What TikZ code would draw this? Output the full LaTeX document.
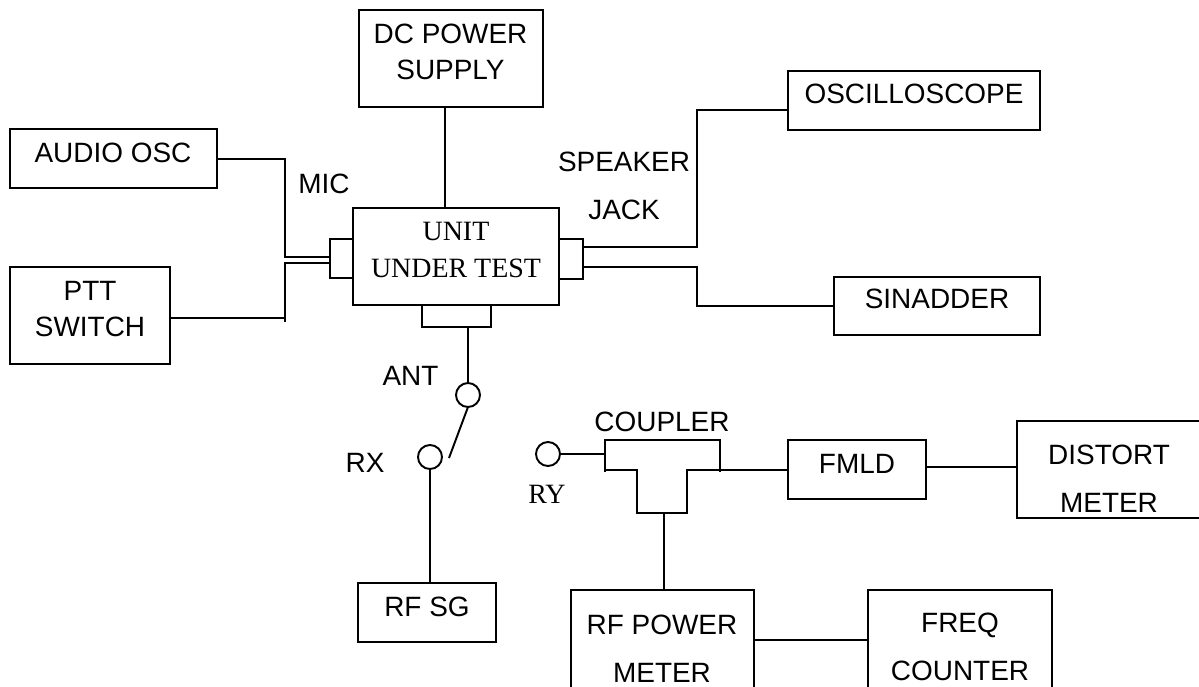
\documentclass[tikz,border=0pt]{standalone}
\usepackage{fontspec}
\setmainfont{Liberation Sans}
\newfontfamily\timesfont{Liberation Serif}
\begin{document}
\begin{tikzpicture}[scale=0.2,line width=1.1pt]
\tikzstyle{every node}+=[inner sep=0pt,outer sep=0pt]
\tikzstyle{block}=[draw,black,rectangle]
\tikzstyle{port}=[draw,black,circle,minimum size=0.48cm]
\tikzstyle{lbl}=[anchor=base,align=center,font=\fontsize{15.9}{20.45}\selectfont]
\tikzstyle{widelbl}=[lbl,font=\fontsize{15.9}{27.3}\selectfont]
\tikzstyle{serlbl}=[lbl,font=\fontsize{15.9}{20.9}\timesfont]
\useasboundingbox (0,0) rectangle (119.9,-68.6);
\clip (0,0) rectangle (119.9,-68.6);
\node [block,minimum width=3.68cm,minimum height=1.94cm] (dc) at (45.1,-5.85) {};
\node [block,minimum width=4.14cm,minimum height=1.18cm] (audio) at (11.35,-15.85) {};
\node [block,minimum width=3.2cm,minimum height=1.94cm] (ptt) at (9,-31.55) {};
\node [block,minimum width=4.12cm,minimum height=1.95cm] (unit) at (45.6,-25.63) {};
\node [block,minimum width=0.46cm,minimum height=0.78cm] (micjack) at (34.15,-25.85) {};
\node [block,minimum width=0.48cm,minimum height=0.8cm] (spkjack) at (57.1,-25.9) {};
\node [block,minimum width=1.38cm,minimum height=0.44cm] (antjack) at (45.65,-31.6) {};
\node [block,minimum width=5.04cm,minimum height=1.18cm] (osc) at (91.4,-10.05) {};
\node [block,minimum width=4.12cm,minimum height=1.16cm] (sin) at (93.7,-30.6) {};
\node [block,minimum width=2.76cm,minimum height=1.18cm] (rfsg) at (42.7,-61.25) {};
\node [block,minimum width=2.76cm,minimum height=1.18cm] (fmld) at (85.7,-46.95) {};
\node [block,minimum width=3.96cm,minimum height=1.94cm] (distort) at (111.6,-46.95) {};
\node [block,minimum width=3.66cm,minimum height=2cm] (rfpower) at (66.25,-64) {};
\node [block,minimum width=3.68cm,minimum height=2cm] (freq) at (96,-64) {};
\node [port] (ant) at (46.8,-39.5) {};
\node [port] (rx) at (43,-45.7) {};
\node [port] (ry) at (54.8,-45.4) {};
\coordinate (swtip) at (44.9,-45.8);
\coordinate (cplin) at (60.5,-45.4);
\coordinate (cplout) at (72,-47);
\coordinate (cplbase) at (66.4,-51.3);
\node [lbl] (dctext) at (45.05,-7.9) {DC POWER\\SUPPLY};
\node [lbl] (audiotext) at (11.3,-16.2) {AUDIO OSC};
\node [lbl] (mictext) at (32.4,-19.3) {MIC};
\node [lbl] (ptttext) at (9,-33.6) {PTT\\SWITCH};
\node [serlbl] (unittext) at (45.6,-27.7) {UNIT\\UNDER TEST};
\node [widelbl] (spktext) at (62.4,-21.9) {SPEAKER\\JACK};
\node [lbl] (osctext) at (91.4,-10.3) {OSCILLOSCOPE};
\node [lbl] (sintext) at (93.7,-30.8) {SINADDER};
\node [lbl] (anttext) at (41.05,-38.5) {ANT};
\node [lbl] (rxtext) at (36.5,-47.2) {RX};
\node [lbl] (rfsgtext) at (42.7,-61.6) {RF SG};
\node [lbl] (cpltext) at (66.2,-43.1) {COUPLER};
\node [serlbl] (rytext) at (54.7,-50.3) {RY};
\node [lbl] (fmldtext) at (85.7,-47.3) {FMLD};
\node [widelbl] (distorttext) at (110.9,-51.2) {DISTORT\\METER};
\node [widelbl] (rfpowertext) at (66.2,-68.2) {RF POWER\\METER};
\node [widelbl] (freqtext) at (96,-68) {FREQ\\COUNTER};
\draw (dc.south -| 44.5,0) -- (unit.north -| 44.5,0);
\draw (audio.east |- 0,-15.9) -| (28.5,-25.7) -- (micjack.west |- 0,-25.7);
\draw (ptt.east |- 0,-31.8) -- (28.5,-31.8);
\draw (28.5,-32.2) -- (28.5,-26.3) -- (micjack.west |- 0,-26.3);
\draw (spkjack.east |- 0,-24.7) -- (69.7,-24.7) |- (osc.west |- 0,-11);
\draw (spkjack.east |- 0,-26.7) -- (69.7,-26.7) |- (sin.west);
\draw (antjack.south -| ant.north) -- (ant.north);
\draw (ant.south) -- (swtip);
\draw (rx.south) -- (rfsg.north -| rx.south);
\draw (ry.east) -- (cplin);
\draw (60.5,-47.2) -- (60.5,-44) -- (72,-44) -- (72,-47.2);
\draw (60.5,-47) -- (63.7,-47) -- (63.7,-51.3) -- (68.7,-51.3) -- (68.7,-47) -- (cplout);
\draw (cplout) -- (fmld.west |- cplout);
\draw (cplbase) -- (rfpower.north -| cplbase);
\draw (fmld.east |- 0,-46.7) -- (distort.west |- 0,-46.7);
\draw (rfpower.east) -- (freq.west);
\end{tikzpicture}
\end{document}
